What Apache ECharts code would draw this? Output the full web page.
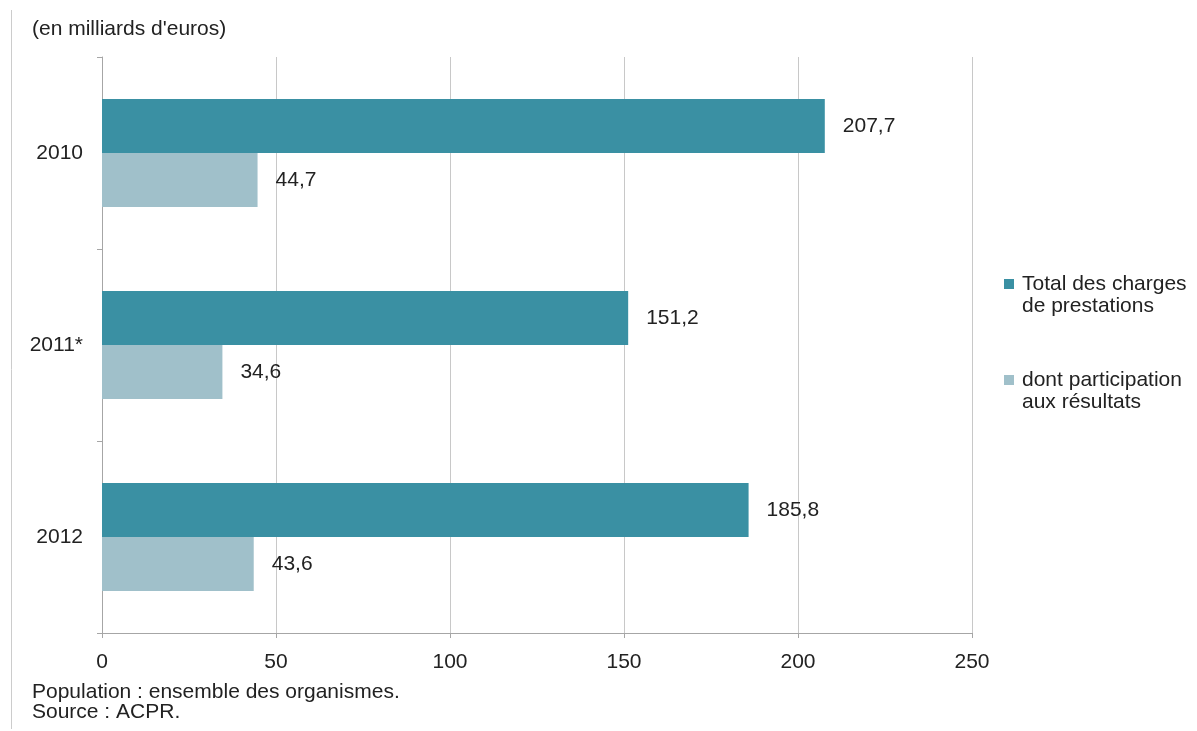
<!DOCTYPE html>
<html>
<head>
<meta charset="utf-8">
<script src="https://cdn.jsdelivr.net/npm/echarts@6/dist/echarts.min.js"></script>
<style>
  html, body { margin: 0; padding: 0; background: #fff; }
  #chart { width: 1197px; height: 731px; }
</style>
</head>
<body>
<div id="chart"></div>
<script>
// Prestations des organismes, en milliards d'euros
const years = ['2010', '2011*', '2012'];
const totalCharges = [207.7, 151.2, 185.8];
const participation = [44.7, 34.6, 43.6];
const xTicks = [0, 50, 100, 150, 200, 250];

const seriesNames = ['Total des charges de prestations', 'dont participation aux résultats'];
const legendText = {
  'Total des charges de prestations': 'Total des charges\nde prestations',
  'dont participation aux résultats': 'dont participation\naux résultats'
};

const FONT = '"Liberation Sans", Arial, Helvetica, sans-serif';
const FS = 21;
const frComma = v => String(v).replace('.', ',');

// Legend swatch: a 10px square at the top of a taller box, so it sits beside the first text line
const swatch = 'path://M0,0h10v10h-10z M0,32h0.01v0.01h-0.01z';

const chart = echarts.init(document.getElementById('chart'), null, { renderer: 'canvas' });

const valueLabel = {
  show: true,
  position: 'right',
  distance: 18,
  fontFamily: FONT,
  fontSize: FS,
  color: '#222',
  formatter: p => frComma(p.value)
};

chart.setOption({
  backgroundColor: '#ffffff',
  animation: false,
  textStyle: { fontFamily: FONT },
  grid: { left: 102, right: 225, top: 57, bottom: 98, containLabel: false },
  legend: {
    orient: 'vertical',
    left: 1004,
    top: 273,
    padding: 0,
    itemWidth: 10,
    itemHeight: 32,
    itemGap: 52,
    icon: swatch,
    data: seriesNames,
    formatter: name => legendText[name],
    textStyle: { fontFamily: FONT, fontSize: FS, color: '#222', lineHeight: 22, padding: [0, 0, 0, 3] },
    selectedMode: false
  },
  xAxis: {
    type: 'value',
    min: xTicks[0],
    max: xTicks[xTicks.length - 1],
    interval: 50,
    axisLine: { show: true, lineStyle: { color: '#a6a6a6', width: 1 } },
    axisTick: { show: true, length: 5, lineStyle: { color: '#a6a6a6' } },
    axisLabel: { fontFamily: FONT, fontSize: FS, color: '#222', margin: 19 },
    splitLine: { show: true, lineStyle: { color: '#c8c8c8', width: 1 } }
  },
  yAxis: {
    type: 'category',
    data: years,
    inverse: true,
    axisLine: { show: true, lineStyle: { color: '#a6a6a6', width: 1 } },
    axisTick: { show: true, length: 5, lineStyle: { color: '#a6a6a6' } },
    axisLabel: { fontFamily: FONT, fontSize: FS, color: '#222', margin: 19 }
  },
  series: [
    {
      name: seriesNames[0],
      type: 'bar',
      data: totalCharges,
      barWidth: 54,
      barGap: '0%',
      itemStyle: { color: '#3a90a3' },
      label: valueLabel
    },
    {
      name: seriesNames[1],
      type: 'bar',
      data: participation,
      barWidth: 54,
      itemStyle: { color: '#a0c0ca' },
      label: valueLabel
    }
  ],
  graphic: [
    {
      type: 'line',
      shape: { x1: 11.5, y1: 10, x2: 11.5, y2: 729 },
      style: { stroke: '#cccccc', lineWidth: 1 },
      silent: true
    },
    {
      type: 'text',
      left: 32,
      top: 19,
      style: { text: "(en milliards d'euros)", fontFamily: FONT, fontSize: FS, fill: '#222' }
    },
    {
      type: 'text',
      left: 32,
      top: 682,
      style: {
        text: 'Population : ensemble des organismes.\nSource : ACPR.',
        fontFamily: FONT, fontSize: FS, lineHeight: 20, fill: '#222'
      }
    }
  ]
});
</script>
</body>
</html>
